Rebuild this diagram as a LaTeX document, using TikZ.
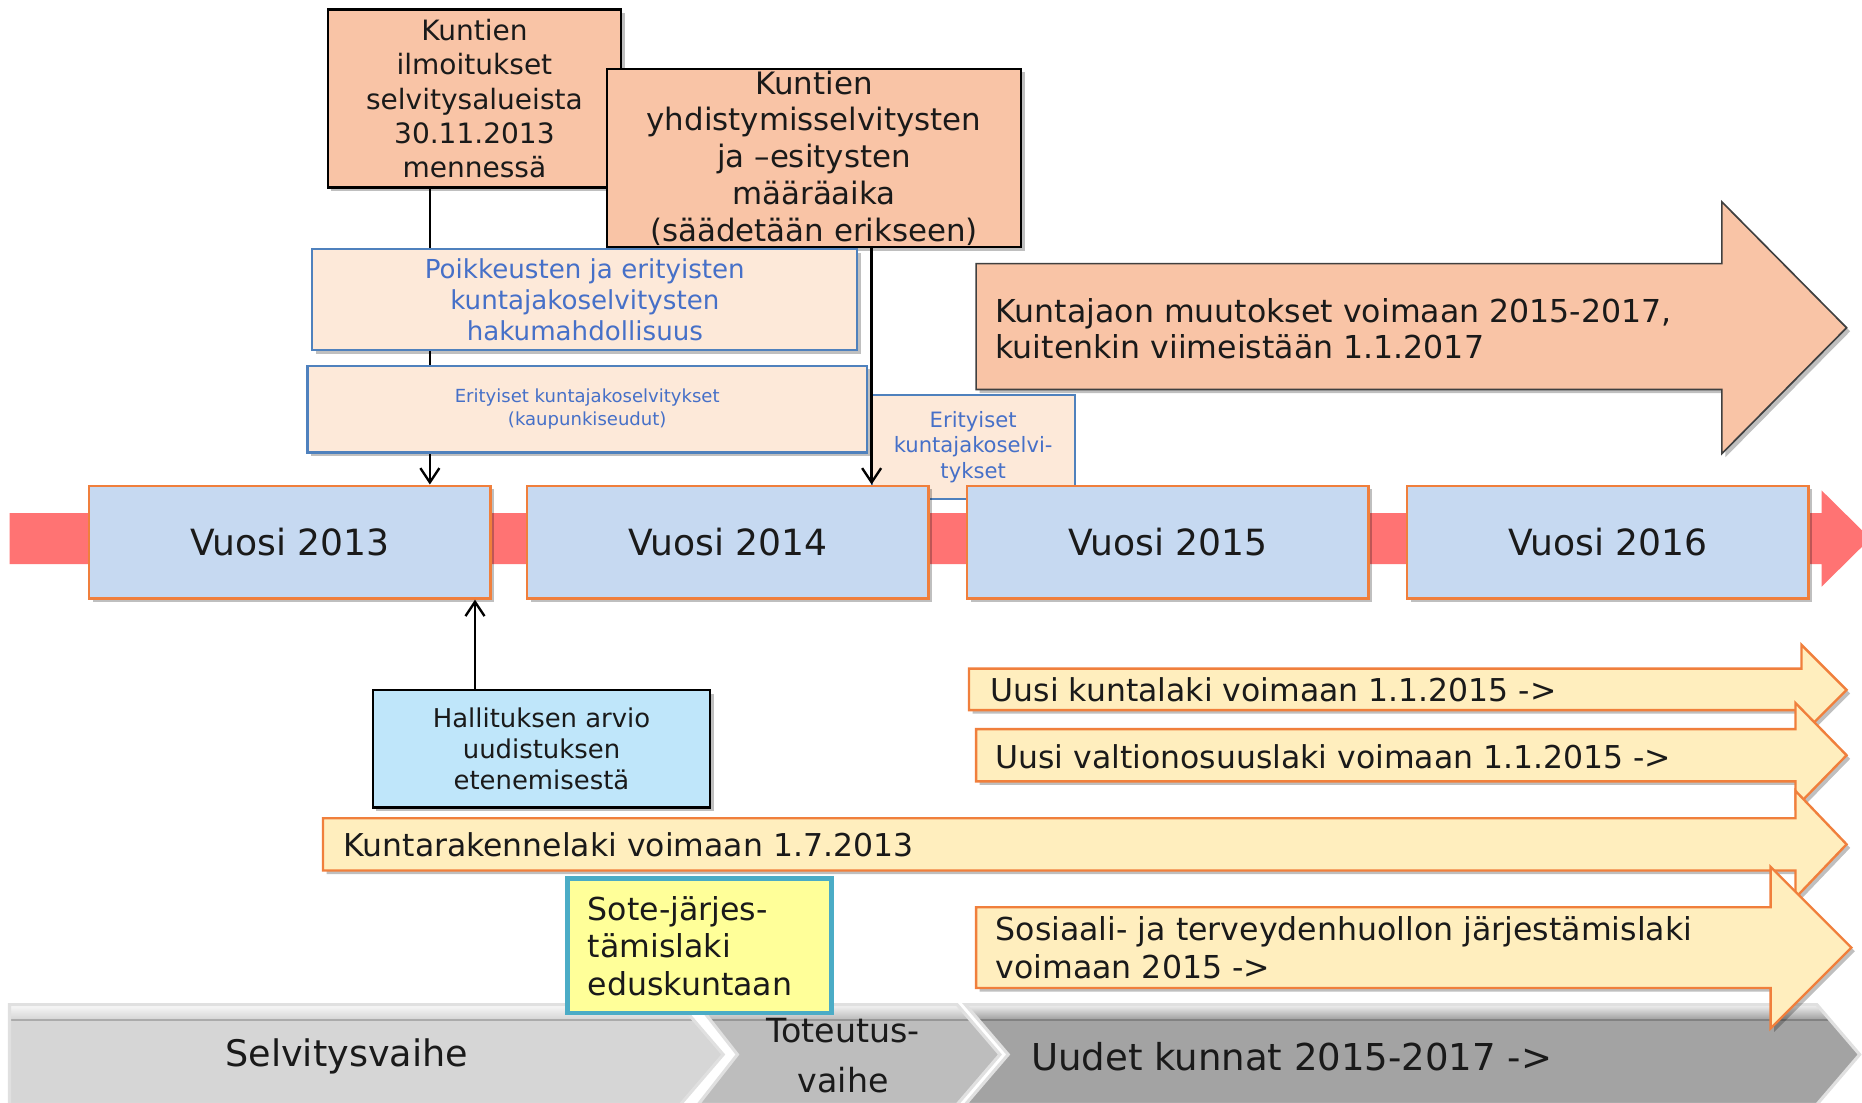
\documentclass[tikz,border=0pt]{standalone}
\usepackage{fontspec}
\setmainfont{DejaVu Sans}
\usetikzlibrary{arrows.meta,shadows}
\definecolor{salmonf}{HTML}{F9C4A6}
\definecolor{peachf}{HTML}{FDE9D9}
\definecolor{bluebd}{HTML}{4F81BD}
\definecolor{bluetx}{HTML}{4670C8}
\definecolor{yearf}{HTML}{C6D9F1}
\definecolor{orangebd}{HTML}{F07F3C}
\definecolor{bandred}{HTML}{FF7373}
\definecolor{yellowf}{HTML}{FFEEBE}
\definecolor{hallf}{HTML}{BFE6FA}
\definecolor{sotef}{HTML}{FFFF99}
\definecolor{tealbd}{HTML}{4BACC6}
\definecolor{chevA}{HTML}{D6D6D6}
\definecolor{chevB}{HTML}{BDBDBD}
\definecolor{chevC}{HTML}{A3A3A3}
\definecolor{txt}{HTML}{1A1A1A}
\tikzset{
  softshadow/.style={drop shadow={shadow xshift=1.5pt,shadow yshift=-1.5pt,opacity=0.25,fill=black}},
  salbox/.style={draw=black,line width=1pt,fill=salmonf,align=center,inner sep=0pt,text=txt,softshadow},
  peachbox/.style={draw=bluebd,line width=0.9pt,fill=peachf,align=center,inner sep=0pt,text=bluetx},
  yearbox/.style={draw=orangebd,line width=1pt,fill=yearf,inner sep=0pt,minimum width=169pt,minimum height=47.5pt,text=txt,font=\fontsize{15.2}{18}\selectfont,softshadow},
  yarrow/.style={draw=orangebd,line width=1pt,fill=yellowf,softshadow},
  bigarrow/.style={draw=black!75,line width=0.7pt,fill=salmonf,softshadow},
  lbl/.style={inner sep=0pt,anchor=west,align=left,text=txt},
  conn/.style={line width=1pt,-{Straight Barb[length=6pt,width=8pt]}},
  chev/.style={draw=white!88!black,line width=1.3pt},
}
\begin{document}
\begin{tikzpicture}[x=0.5pt,y=-0.5pt]
\useasboundingbox (0,0) rectangle (1568,928);
\fill[white] (0,0) rectangle (1568,928);
\clip (0,0) rectangle (1568,928);

% red timeline band
\fill[bandred] (8,432) -- (1534,432) -- (1534,413) -- (1575,453.5) -- (1534,494) -- (1534,475) -- (8,475) -- cycle;

% small special box (behind the year boxes)
\node[peachbox,minimum width=85.5pt,minimum height=43.7pt,font=\fontsize{8.9}{10.75}\selectfont] (er2) at (819.5,376.3)
  {Erityiset\\kuntajakoselvi-\\tykset};

% year boxes
\node[yearbox] (y13) at (244,456.5) {Vuosi 2013};
\node[yearbox] (y14) at (613,456.5) {Vuosi 2014};
\node[yearbox] (y15) at (983.5,456.5) {Vuosi 2015};
\node[yearbox] (y16) at (1354,456.5) {Vuosi 2016};

% top salmon boxes
\node[salbox,minimum width=123.5pt,minimum height=75pt,font=\fontsize{11.8}{14.5}\selectfont] (b1) at (399.5,83)
  {Kuntien\\ilmoitukset\\selvitysalueista\\30.11.2013\\mennessä};
\node[salbox,minimum width=174.5pt,minimum height=75pt,font=\fontsize{13}{15.5}\selectfont] (b2) at (685.5,133)
  {Kuntien\\yhdistymisselvitysten\\ja –esitysten\\määräaika\\(säädetään erikseen)};

% connector from b1 (behind the peach boxes)
\draw[conn] ([xshift=-18.75pt]b1.south) -- ([xshift=-18.75pt]b1.south |- y13.north);

% peach boxes
\node[peachbox,minimum width=229.5pt,minimum height=42.5pt,font=\fontsize{11}{13}\selectfont,softshadow] (pk) at (492.5,252.5)
  {Poikkeusten ja erityisten\\kuntajakoselvitysten\\hakumahdollisuus};
\node[peachbox,minimum width=235.5pt,minimum height=36.5pt,font=\fontsize{7.6}{9.5}\selectfont,softshadow] (er1) at (494.5,344.5)
  {Erityiset kuntajakoselvitykset\\(kaupunkiseudut)};

\draw[conn] ([xshift=24.25pt]b2.south) -- ([xshift=24.25pt]b2.south |- y14.north);

% big salmon arrow
\path[bigarrow] (822,222) -- (1450,222) -- (1450,170) -- (1555,276) -- (1450,382) -- (1450,328) -- (822,328) -- cycle;
\node[lbl,font=\fontsize{13.3}{15}\selectfont] (kj) at (838,277)
  {Kuntajaon muutokset voimaan 2015-2017,\\kuitenkin viimeistään 1.1.2017};

% government evaluation box
\node[draw=black,line width=1pt,fill=hallf,inner sep=0pt,minimum width=142pt,minimum height=49.5pt,align=center,text=txt,
      font=\fontsize{10.9}{13}\selectfont,softshadow] (hb) at (456,630.5)
  {Hallituksen arvio\\uudistuksen\\etenemisestä};
\draw[conn] ([xshift=-28pt]hb.north) -- ([xshift=-28pt]hb.north |- y13.south);

% yellow arrows
\path[yarrow] (816,563) -- (1517,563) -- (1517,543) -- (1555,581) -- (1517,619) -- (1517,598) -- (816,598) -- cycle;
\node[lbl,font=\fontsize{13.25}{15}\selectfont] (ukl) at (834,581) {Uusi kuntalaki voimaan 1.1.2015 ->};

\path[yarrow] (822,614) -- (1512,614) -- (1512,592) -- (1555,636) -- (1512,680) -- (1512,658) -- (822,658) -- cycle;
\node[lbl,font=\fontsize{13.25}{15}\selectfont] (uvl) at (838,637) {Uusi valtionosuuslaki voimaan 1.1.2015 ->};

\path[yarrow] (272,689) -- (1512,689) -- (1512,666) -- (1555,711) -- (1512,756) -- (1512,733) -- (272,733) -- cycle;
\node[lbl,font=\fontsize{13.25}{15}\selectfont] (krl) at (289,711) {Kuntarakennelaki voimaan 1.7.2013};

% bottom phase chevrons with a light bevel at the top
\foreach \pts/\col in {{(8,846) -- (573,846) -- (609,888) -- (573,930) -- (8,930) -- cycle}/chevA,
                       {(588,846) -- (806,846) -- (842,888) -- (806,930) -- (588,930) -- (621,888) -- cycle}/chevB,
                       {(813,846) -- (1530,846) -- (1566,888) -- (1530,930) -- (813,930) -- (849,888) -- cycle}/chevC}{
  \fill[\col] \pts;
  \begin{scope}
    \clip \pts;
    \shade[top color=white!85!\col,bottom color=\col] (0,846) rectangle (1600,858);
    \fill[\col!80!black] (0,858) rectangle (1600,860);
  \end{scope}
  \draw[chev] \pts;
}
\node[inner sep=0pt,text=txt,font=\fontsize{15.4}{18}\selectfont] (sv) at (292,890) {Selvitysvaihe};
\node[inner sep=0pt,text=txt,align=center,font=\fontsize{14}{21}\selectfont] (tv) at (710,889) {Toteutus-\\vaihe};
\node[lbl,font=\fontsize{15.6}{18}\selectfont] (uk) at (868,890) {Uudet kunnat 2015-2017 ->};

% Sote box
\node[draw=tealbd,line width=2pt,fill=sotef,inner xsep=8.5pt,inner ysep=0pt,text width=94pt,minimum height=56.5pt,
      align=left,text=txt,font=\fontsize{13.3}{15.75}\selectfont] (sote) at (589,796.5)
  {Sote-järjes-\\tämislaki\\eduskuntaan};

% Sosiaali arrow
\path[yarrow] (822,764) -- (1491,764) -- (1491,730) -- (1559,798) -- (1491,866) -- (1491,832) -- (822,832) -- cycle;
\node[lbl,font=\fontsize{13.3}{16}\selectfont] (sos) at (838,798)
  {Sosiaali- ja terveydenhuollon järjestämislaki\\voimaan 2015 ->};
\end{tikzpicture}
\end{document}
